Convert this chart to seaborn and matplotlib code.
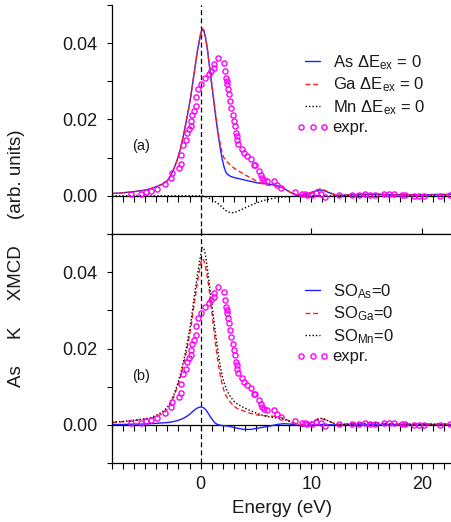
import numpy as np
import pandas as pd
import seaborn as sns
import matplotlib
matplotlib.use("Agg")
import matplotlib.pyplot as plt
from matplotlib.ticker import MultipleLocator, FormatStrFormatter
from matplotlib.legend_handler import HandlerLine2D

# ---------------- data ----------------
energy = [-8, -7, -6, -5, -4.5, -4, -3.5, -3.0, -2.7, -2.4, -2.1, -1.8, -1.5, -1.2, -0.9, -0.6, -0.3,
          0.0, 0.15, 0.3, 0.45, 0.6, 0.75, 0.9, 1.05, 1.2, 1.35, 1.5, 1.65, 1.8, 1.95, 2.1, 2.25, 2.4,
          2.7, 3.0, 3.3, 3.9, 4.5, 5.1, 5.7, 6.3, 6.9, 7.5, 8.1, 8.7, 9.3, 9.9, 10.5, 10.8, 11.1, 11.7, 12.3,
          13, 14, 15, 16, 17, 18, 20, 22.6]

# panel (a)
as_dex0 = [0.0006, 0.0008, 0.0011, 0.0015, 0.0019, 0.0024, 0.0030, 0.0040, 0.0053, 0.0072, 0.0095, 0.0125,
           0.0165, 0.0210, 0.0258, 0.0318, 0.0378,
           0.0424, 0.0437, 0.0432, 0.0413, 0.0385, 0.0350, 0.0315, 0.0280, 0.0245, 0.0210, 0.0177, 0.0147,
           0.0120, 0.0096, 0.0077, 0.0064, 0.0057,
           0.0051, 0.0048, 0.0046, 0.0042, 0.0038, 0.0034, 0.0032, 0.0030, 0.0027, 0.0020, 0.0009, 0.0002,
           0.0002, 0.0007, 0.0014, 0.0015, 0.0014, 0.0007, 0.0001,
           0.0002, 0.0003, 0.0004, 0.0004, 0.0003, 0.0003, 0.0003, 0.0004]
ga_dex0 = [0.0006, 0.0008, 0.0011, 0.0015, 0.0019, 0.0024, 0.0030, 0.0040, 0.0053, 0.0072, 0.0095, 0.0125,
           0.0165, 0.0210, 0.0258, 0.0318, 0.0378,
           0.0425, 0.0439, 0.0434, 0.0415, 0.0388, 0.0353, 0.0318, 0.0284, 0.0250, 0.0216, 0.0184, 0.0155,
           0.0131, 0.0112, 0.0100, 0.0094, 0.0089,
           0.0080, 0.0073, 0.0067, 0.0057, 0.0047, 0.0038, 0.0030, 0.0027, 0.0026, 0.0020, 0.0009, 0.0002,
           0.0002, 0.0008, 0.0016, 0.0018, 0.0016, 0.0008, 0.0001,
           0.0002, 0.0004, 0.0005, 0.0005, 0.0003, 0.0003, 0.0002, 0.0003]
mn_dex0 = [0.0, 0.0, 0.0, 0.0, 0.0, 0.0, 0.0, 0.0, 0.0, 0.0, 0.0, 0.0, 0.0, 0.0, 0.0, 0.0, 0.0,
           0.0, 0.0, -0.0001, -0.0002, -0.0004, -0.0006, -0.0008, -0.0010, -0.0013, -0.0016, -0.0019,
           -0.0022, -0.0026, -0.0030, -0.0034, -0.0038, -0.0041,
           -0.0044, -0.0044, -0.0041, -0.0033, -0.0025, -0.0018, -0.0012, -0.0008, -0.0005, -0.0003,
           -0.0002, -0.0001, 0.0, 0.0, 0.0001, 0.0001, 0.0001, 0.0, 0.0,
           0.0, 0.0, 0.0, 0.0, 0.0, 0.0, 0.0, 0.0]

# panel (b)
so_as0 = [0.0001, 0.0001, 0.0002, 0.0002, 0.0003, 0.0004, 0.0005, 0.0006, 0.0007, 0.0009, 0.0011, 0.0014,
          0.0018, 0.0023, 0.0030, 0.0038, 0.0044,
          0.0047, 0.0046, 0.0044, 0.0040, 0.0034, 0.0027, 0.0020, 0.0014, 0.0008, 0.0004, 0.0001, 0.0000,
          -0.0001, -0.0002, -0.0002, -0.0003, -0.0003,
          -0.0005, -0.0007, -0.0009, -0.0012, -0.0012, -0.0009, -0.0006, -0.0003, 0.0001, 0.0003, 0.0002,
          -0.0001, -0.0003, -0.0001, 0.0001, 0.0001, 0.0001, 0.0, 0.0,
          0.0, 0.0, 0.0, 0.0, 0.0, 0.0, 0.0, 0.0]
so_ga0 = [0.0006, 0.0008, 0.0011, 0.0015, 0.0017, 0.0022, 0.0029, 0.0041, 0.0056, 0.0075, 0.0100, 0.0128,
          0.0163, 0.0203, 0.0250, 0.0313, 0.0372,
          0.0422, 0.0435, 0.0430, 0.0412, 0.0388, 0.0360, 0.0323, 0.0286, 0.0248, 0.0211, 0.0178, 0.0150,
          0.0126, 0.0106, 0.0090, 0.0079, 0.0071,
          0.0059, 0.0049, 0.0043, 0.0036, 0.0030, 0.0026, 0.0024, 0.0023, 0.0022, 0.0017, 0.0009, 0.0002,
          0.0001, 0.0006, 0.0014, 0.0016, 0.0015, 0.0008, 0.0001,
          0.0002, 0.0004, 0.0005, 0.0005, 0.0003, 0.0002, 0.0002, 0.0002]
so_mn0 = [0.0007, 0.0009, 0.0012, 0.0016, 0.0019, 0.0025, 0.0033, 0.0046, 0.0060, 0.0080, 0.0105, 0.0135,
          0.0172, 0.0215, 0.0265, 0.0330, 0.0391,
          0.0444, 0.0465, 0.0462, 0.0442, 0.0412, 0.0378, 0.0343, 0.0308, 0.0273, 0.0238, 0.0206, 0.0176,
          0.0150, 0.0128, 0.0112, 0.0099, 0.0088,
          0.0073, 0.0062, 0.0055, 0.0045, 0.0037, 0.0030, 0.0024, 0.0020, 0.0018, 0.0015, 0.0008, -0.0001,
          -0.0003, 0.0004, 0.0014, 0.0017, 0.0016, 0.0008, 0.0001,
          0.0001, 0.0003, 0.0004, 0.0004, 0.0002, 0.0002, 0.0002, 0.0002]

# experiment (same in both panels)
expr_e = [-6.31, -5.41, -4.89, -4.44, -3.96, -3.21, -2.70, -2.58, -1.95, -1.80, -1.80, -1.59, -1.35, -1.20,
          -1.05, -0.90, -0.84, -0.75, -0.60, -0.39, -0.39, -0.21, 0.06, 0.36, 0.75, 0.96, 1.20, 1.23, 1.56,
          2.10, 2.19, 2.28, 2.34, 2.40, 2.46, 2.52, 2.61, 2.70, 2.94, 3.00, 3.06, 3.15, 3.24, 3.30, 3.36,
          3.75, 3.90, 4.20, 4.56, 4.80, 4.95, 5.26, 5.41, 5.56, 5.71, 6.01, 6.61, 6.91, 7.21, 8.56, 9.16,
          9.46, 9.61, 10.06, 10.45, 10.90, 11.26, 12.46, 13.66, 14.26, 14.86, 15.32, 15.77, 16.52, 16.97,
          17.42, 18.17, 18.47, 19.22, 19.67, 20.12, 21.62, 22.52]
expr_v = [0.0005, 0.0004, 0.0009, 0.0013, 0.0018, 0.0032, 0.0046, 0.0060, 0.0073, 0.0083, 0.0108, 0.0132,
          0.0147, 0.0165, 0.0174, 0.0184, 0.0196, 0.0211, 0.0222, 0.0235, 0.0259, 0.0281, 0.0292, 0.0310,
          0.0318, 0.0327, 0.0345, 0.0336, 0.0360, 0.0349, 0.0327, 0.0310, 0.0301, 0.0292, 0.0279, 0.0266,
          0.0248, 0.0231, 0.0213, 0.0196, 0.0182, 0.0165, 0.0156, 0.0146, 0.0137, 0.0123, 0.0112, 0.0105,
          0.0097, 0.0082, 0.0080, 0.0066, 0.0055, 0.0046, 0.0042, 0.0038, 0.0038, 0.0029, 0.0020, 0.0009,
          0.0004, 0.0005, 0.0002, 0.0003, 0.0007, 0.0005, -0.0002, 0.0001, 0.0003, 0.0003, 0.0004, 0.0003,
          0.0003, 0.0004, 0.0005, 0.0004, 0.0003, 0.0003, 0.0000, 0.0000, 0.0000, 0.0000, 0.0003]

labels_a = [r"As $\mathrm{\Delta E}_\mathrm{ex}$ = 0", r"Ga $\mathrm{\Delta E}_\mathrm{ex}$ = 0",
            r"Mn $\mathrm{\Delta E}_\mathrm{ex}$ = 0", "expr."]
labels_b = [r"$\mathrm{SO}_\mathrm{As}$=0", r"$\mathrm{SO}_\mathrm{Ga}$=0",
            r"$\mathrm{SO}_\mathrm{Mn}$=0", "expr."]

# ---------------- style ----------------
sns.set_theme(style="white")
plt.rcParams["font.family"] = ["Liberation Sans", "DejaVu Sans"]
plt.rcParams["mathtext.fontset"] = "custom"
plt.rcParams["mathtext.rm"] = "Liberation Sans"
plt.rcParams["mathtext.it"] = "Liberation Sans:italic"
plt.rcParams["mathtext.bf"] = "Liberation Sans:bold"
plt.rcParams["text.color"] = "#1a1a1a"
plt.rcParams["axes.labelcolor"] = "#1a1a1a"
plt.rcParams["xtick.color"] = "black"
plt.rcParams["ytick.color"] = "black"
plt.rcParams["xtick.labelcolor"] = "#1a1a1a"
plt.rcParams["ytick.labelcolor"] = "#1a1a1a"

BLUE = "#1f1fff"
RED = "#ff2020"
BLACK = "black"
MAG = "#ff00ff"
LW = 1.0

fig = plt.figure(figsize=(4.51, 5.22), dpi=100)
L = 112 / 451
W = 1 - L
ax1 = fig.add_axes([L, 1 - 234 / 522, W, (234 - 5) / 522])
ax2 = fig.add_axes([L, 1 - 463 / 522, W, (463 - 234) / 522])


def draw_panel(ax, curves, labels):
    styles = [(BLUE, "-"), (RED, (0, (3.5, 2.0))), (BLACK, (0, (1.0, 1.5)))]
    for (col, ls), y, lab in zip(styles, curves, labels[:3]):
        sns.lineplot(x=energy, y=y, ax=ax, color=col, linestyle=ls, linewidth=LW,
                     estimator=None, sort=False, label=lab)
    sns.lineplot(x=expr_e, y=expr_v, ax=ax, estimator=None, sort=False, linestyle="",
                 marker="o", markersize=3.7, markerfacecolor="none", markeredgecolor=MAG,
                 markeredgewidth=1.0, color=MAG, label=labels[3])
    ax.axvline(0, color="black", linewidth=0.9, linestyle=(0, (4, 2.5)), zorder=1)
    ax.set_xlim(-8, 22.6)
    ax.set_ylim(-0.01, 0.05)
    ax.set_xlabel("")
    ax.set_ylabel("")
    for s in ax.spines.values():
        s.set_color("black")
        s.set_linewidth(0.9)
    ax.spines["right"].set_visible(False)
    ax.yaxis.set_major_locator(MultipleLocator(0.02))
    ax.yaxis.set_minor_locator(MultipleLocator(0.01))
    ax.yaxis.set_major_formatter(FormatStrFormatter("%.2f"))
    ax.tick_params(axis="y", which="both", direction="out", length=3.6, width=0.8,
                   left=True, right=False, labelsize=13, pad=7)
    ax.xaxis.set_major_locator(MultipleLocator(10))
    ax.xaxis.set_minor_locator(MultipleLocator(1))
    # tick marks along the zero line
    sec = ax.secondary_xaxis(1 / 6)
    sec.xaxis.set_major_locator(MultipleLocator(10))
    sec.xaxis.set_minor_locator(MultipleLocator(1))
    sec.tick_params(axis="x", which="both", direction="out", length=4.0, width=0.8,
                    labelbottom=False, labeltop=False, color="black")
    sec.spines["bottom"].set_linewidth(0.9)
    sec.spines["bottom"].set_color("black")
    handles, labs = ax.get_legend_handles_labels()
    ax.legend(handles, labs, loc="center left", bbox_to_anchor=(0.555, 0.61), frameon=False,
              fontsize=12, handlelength=1.5, handletextpad=0.45, labelspacing=0.22, borderpad=0,
              borderaxespad=0, numpoints=3,
              handler_map={handles[3]: HandlerLine2D(numpoints=3, marker_pad=0.08)})


draw_panel(ax1, [as_dex0, ga_dex0, mn_dex0], labels_a)
draw_panel(ax2, [so_as0, so_ga0, so_mn0], labels_b)

ax1.spines["top"].set_visible(False)
ax1.tick_params(axis="x", which="major", direction="inout", length=8, width=0.8,
                bottom=True, top=False, labelbottom=False)
ax1.tick_params(axis="x", which="minor", direction="out", length=4.3, width=0.8,
                bottom=True, top=False)
ax2.tick_params(axis="x", which="both", direction="out", length=4.3, width=0.8,
                bottom=True, top=False, labelbottom=True, labelsize=13, pad=5)
ax2.set_xlabel("Energy (eV)", fontsize=13.5, labelpad=5)

ax1.text(-5.4, 0.013, "(a)", ha="center", va="center", fontsize=10.5)
ax2.text(-5.4, 0.0128, "(b)", ha="center", va="center", fontsize=10.5)

fig.text(0.037, 1 - 258.5 / 522, "As     K     XMCD     (arb. units)", rotation=90,
         ha="center", va="center", fontsize=13.5)

fig.savefig("out.png", dpi=100)
